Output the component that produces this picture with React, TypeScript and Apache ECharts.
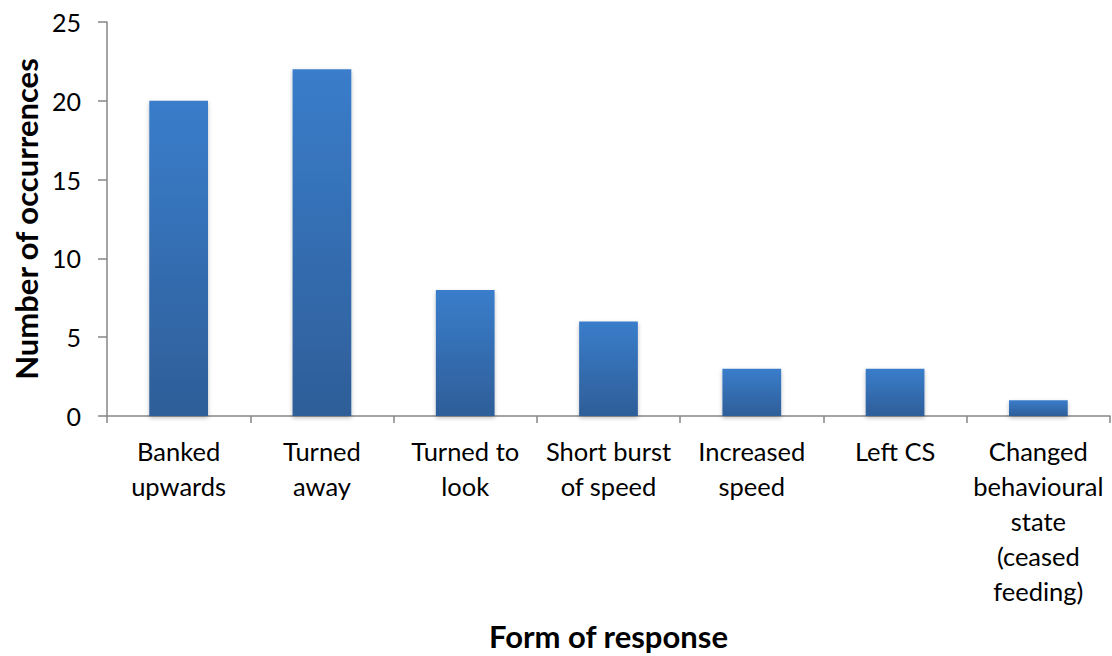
import React, { useEffect, useRef } from "react";
import * as echarts from "echarts";

const categories = [
  "Banked\nupwards",
  "Turned\naway",
  "Turned to\nlook",
  "Short burst\nof speed",
  "Increased\nspeed",
  "Left CS",
  "Changed\nbehavioural\nstate\n(ceased\nfeeding)",
];
const occurrences = [20, 22, 8, 6, 3, 3, 1];
const yTicks = { min: 0, max: 25, interval: 5 };
const xTitle = "Form of response";
const yTitle = "Number of occurrences";

export default function App() {
  const ref = useRef<HTMLDivElement>(null);
  useEffect(() => {
    if (!ref.current) return;
    const chart = echarts.init(ref.current, null, { renderer: "svg" });
    const font = "Lato, 'Open Sans', sans-serif";
    chart.setOption({
      animation: false,
      grid: { left: 107, right: 2, top: 22, bottom: 240, containLabel: false },
      xAxis: {
        type: "category",
        data: categories,
        name: xTitle,
        nameLocation: "middle",
        nameGap: 204,
        nameTextStyle: { fontFamily: font, fontSize: 31, fontWeight: "bold", color: "#000" },
        axisLine: { lineStyle: { color: "#868686", width: 1.5 } },
        axisTick: { show: true, length: 7, alignWithLabel: false, lineStyle: { color: "#868686", width: 1.5 } },
        axisLabel: {
          interval: 0,
          margin: 17,
          fontFamily: font,
          fontSize: 25.5,
          lineHeight: 35,
          color: "#000",
        },
      },
      yAxis: {
        type: "value",
        min: yTicks.min,
        max: yTicks.max,
        interval: yTicks.interval,
        name: yTitle,
        nameLocation: "middle",
        nameGap: 63,
        nameTextStyle: { fontFamily: font, fontSize: 31, fontWeight: "bold", color: "#000" },
        axisLine: { show: true, lineStyle: { color: "#868686", width: 1.5 } },
        axisTick: { show: true, length: 9, lineStyle: { color: "#868686", width: 1.5 } },
        splitLine: { show: false },
        axisLabel: { margin: 26, fontFamily: font, fontSize: 25, color: "#000" },
      },
      series: [
        {
          type: "bar",
          data: occurrences,
          barWidth: "41%",
          itemStyle: {
            color: new echarts.graphic.LinearGradient(0, 0, 0, 1, [
              { offset: 0, color: "#3a7dcb" },
              { offset: 1, color: "#2e5e98" },
            ]),
            shadowColor: "rgba(0,0,0,0.25)",
            shadowBlur: 4,
            shadowOffsetY: 2,
          },
        },
      ],
    });
    return () => chart.dispose();
  }, []);
  return <div ref={ref} style={{ width: 1112, height: 656, position: "absolute", left: 0, top: 0 }} />;
}
